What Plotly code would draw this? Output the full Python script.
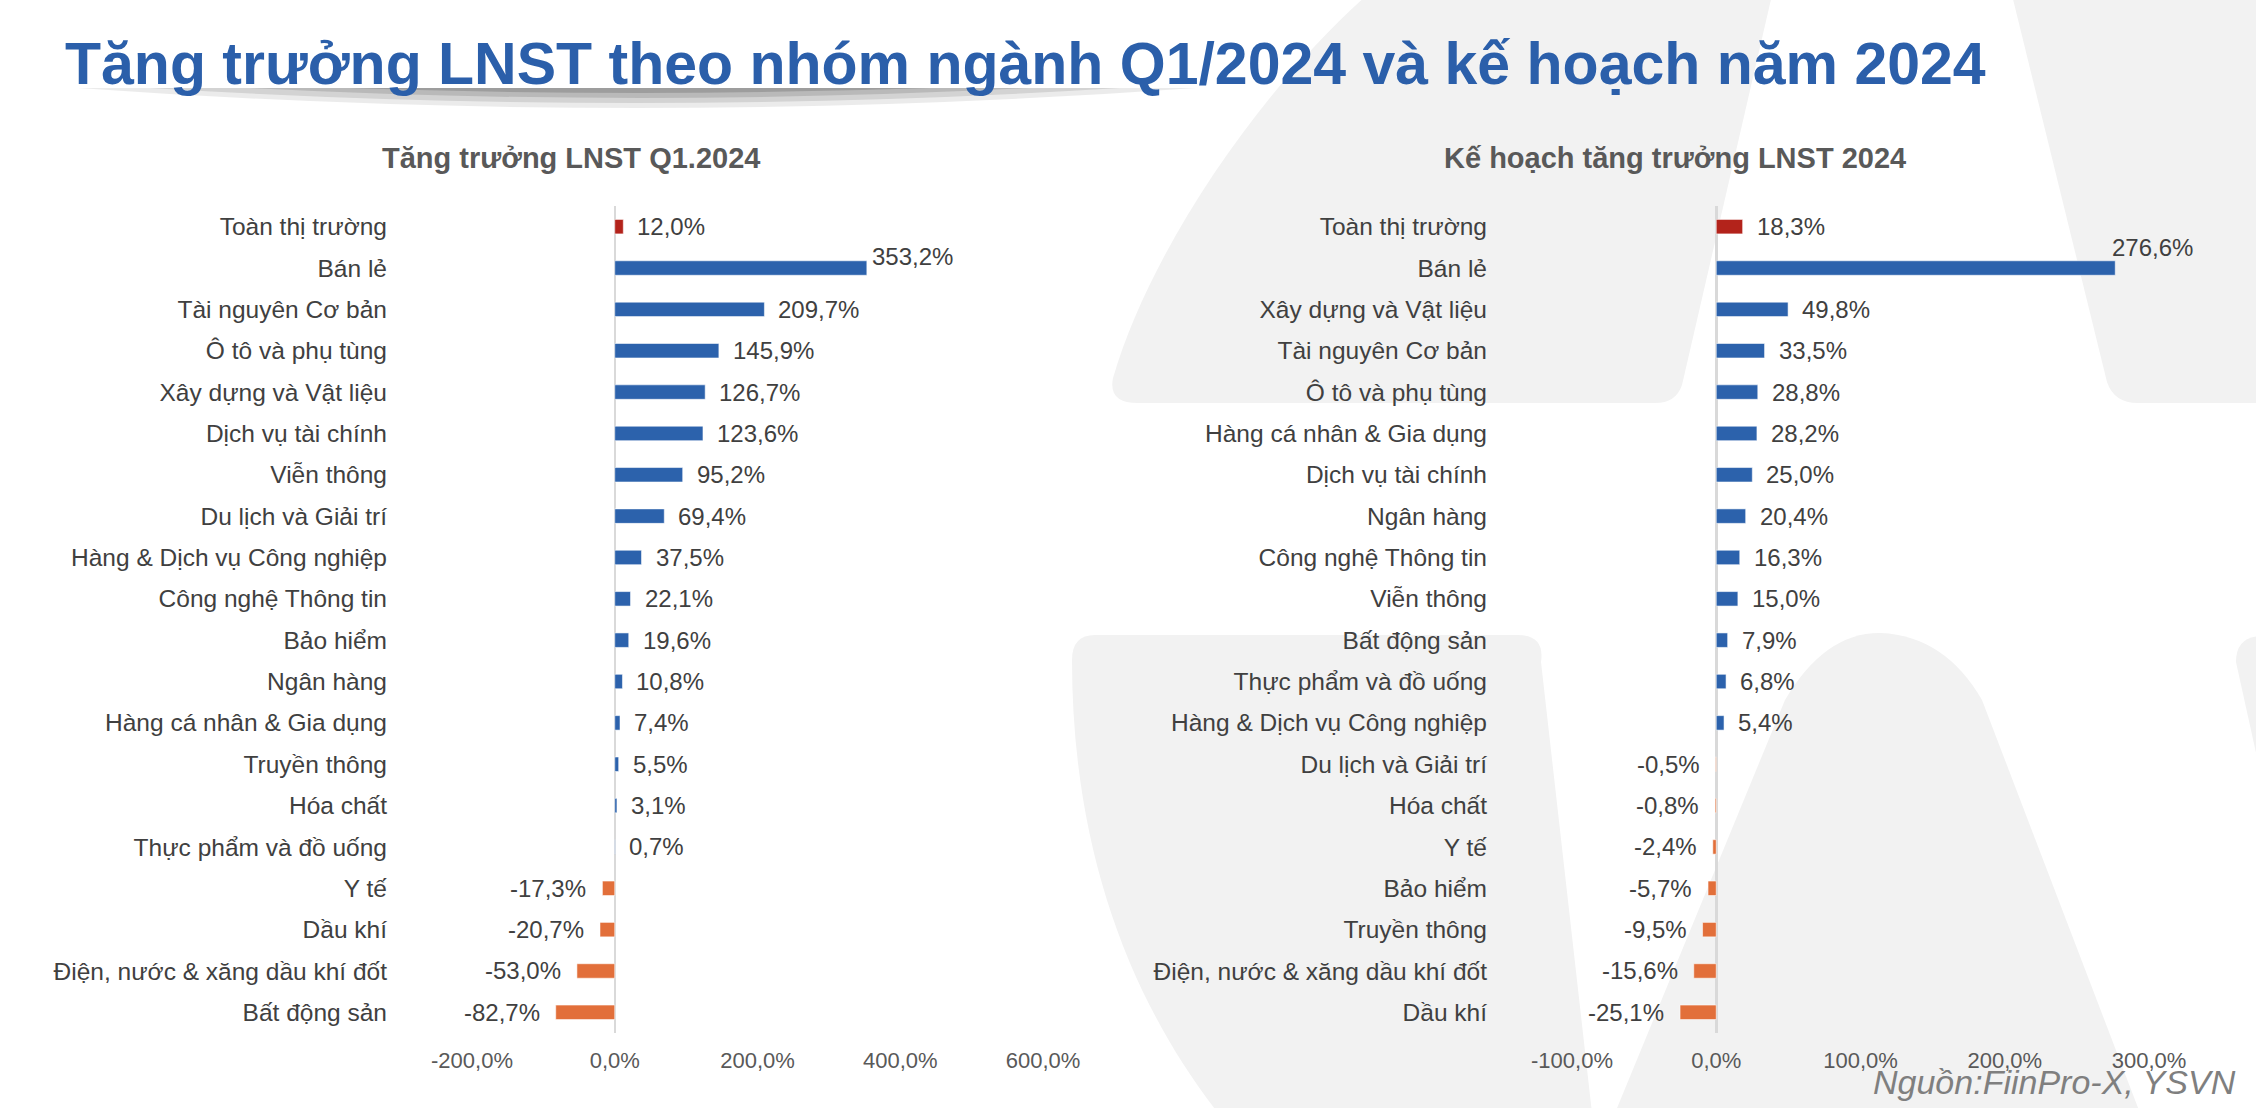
import plotly.graph_objects as go

# ---------------- DATA ----------------
left_categories = ["Toàn thị trường", "Bán lẻ", "Tài nguyên Cơ bản", "Ô tô và phụ tùng",
                   "Xây dựng và Vật liệu", "Dịch vụ tài chính", "Viễn thông", "Du lịch và Giải trí",
                   "Hàng & Dịch vụ Công nghiệp", "Công nghệ Thông tin", "Bảo hiểm", "Ngân hàng",
                   "Hàng cá nhân & Gia dụng", "Truyền thông", "Hóa chất", "Thực phẩm và đồ uống",
                   "Y tế", "Dầu khí", "Điện, nước & xăng dầu khí đốt", "Bất động sản"]
left_values = [12.0, 353.2, 209.7, 145.9, 126.7, 123.6, 95.2, 69.4, 37.5, 22.1,
               19.6, 10.8, 7.4, 5.5, 3.1, 0.7, -17.3, -20.7, -53.0, -82.7]

right_categories = ["Toàn thị trường", "Bán lẻ", "Xây dựng và Vật liệu", "Tài nguyên Cơ bản",
                    "Ô tô và phụ tùng", "Hàng cá nhân & Gia dụng", "Dịch vụ tài chính", "Ngân hàng",
                    "Công nghệ Thông tin", "Viễn thông", "Bất động sản", "Thực phẩm và đồ uống",
                    "Hàng & Dịch vụ Công nghiệp", "Du lịch và Giải trí", "Hóa chất", "Y tế",
                    "Bảo hiểm", "Truyền thông", "Điện, nước & xăng dầu khí đốt", "Dầu khí"]
right_values = [18.3, 276.6, 49.8, 33.5, 28.8, 28.2, 25.0, 20.4, 16.3, 15.0,
                7.9, 6.8, 5.4, -0.5, -0.8, -2.4, -5.7, -9.5, -15.6, -25.1]

left_ticks = [-200, 0, 200, 400, 600]
right_ticks = [-100, 0, 100, 200, 300]

main_title = "Tăng trưởng LNST theo nhóm ngành Q1/2024 và kế hoạch năm 2024"
left_title = "Tăng trưởng LNST Q1.2024"
right_title = "Kế hoạch tăng trưởng LNST 2024"
source_text = "Nguồn:FiinPro-X, YSVN"
total_category = "Toàn thị trường"

# ---------------- STYLE ----------------
W, H = 2256, 1108
FONT = "Liberation Sans, Arial, sans-serif"
BLUE = "#2C62AC"
RED = "#B3231B"
ORANGE = "#E26F3A"
LABEL_COLOR = "#404040"
TICK_COLOR = "#595959"
WM = "#F2F2F2"


def px(x):
    return x / W


def py(y):
    return 1 - y / H


def fmt(v):
    return f"{v:.1f}%".replace(".", ",")


def colors_for(cats, vals):
    out = []
    for c, v in zip(cats, vals):
        if c == total_category:
            out.append(RED)
        elif v >= 0:
            out.append(BLUE)
        else:
            out.append(ORANGE)
    return out


def path(cmds):
    s = ""
    for c in cmds:
        op = c[0]
        s += op
        pts = c[1:]
        s += " ".join(f"{px(x):.5f},{py(y):.5f}" for x, y in pts) + " "
    return s.strip()


fig = go.Figure()

fig.add_trace(go.Bar(
    x=left_values, y=left_categories, orientation="h",
    marker=dict(color=colors_for(left_categories, left_values),
                line=dict(color="rgba(255,255,255,0.55)", width=1)),
    xaxis="x", yaxis="y", hoverinfo="x+y", showlegend=False,
))
fig.add_trace(go.Bar(
    x=right_values, y=right_categories, orientation="h",
    marker=dict(color=colors_for(right_categories, right_values),
                line=dict(color="rgba(255,255,255,0.55)", width=1)),
    xaxis="x2", yaxis="y2", hoverinfo="x+y", showlegend=False,
))

plot_top, plot_bot = 206, 1033
ydom = [py(plot_bot), py(plot_top)]

common_x = dict(showgrid=False, zeroline=True, zerolinecolor="#D9D9D9", zerolinewidth=2.5,
                showline=False, ticks="", tickfont=dict(family=FONT, size=22, color=TICK_COLOR),
                ticklabelstandoff=12, fixedrange=True, automargin=False)
common_y = dict(showgrid=False, zeroline=False, showline=False, ticks="",
                tickfont=dict(family=FONT, size=24.5, color=LABEL_COLOR),
                autorange="reversed", ticklabelstandoff=84, fixedrange=True, domain=ydom,
                automargin=False)

fig.update_layout(
    width=W, height=H,
    margin=dict(l=0, r=0, t=0, b=0, pad=0, autoexpand=False),
    paper_bgcolor="white", plot_bgcolor="rgba(0,0,0,0)",
    bargap=0.65,
    xaxis=dict(common_x, domain=[px(472), px(1043)], range=[-200, 600], anchor="y",
               tickvals=left_ticks, ticktext=[fmt(v) for v in left_ticks]),
    yaxis=dict(common_y, anchor="x", categoryorder="array", categoryarray=left_categories),
    xaxis2=dict(common_x, domain=[px(1572), px(2149)], range=[-100, 300], anchor="y2",
                tickvals=right_ticks, ticktext=[fmt(v) for v in right_ticks]),
    yaxis2=dict(common_y, anchor="x2", categoryorder="array", categoryarray=right_categories),
)

annotations = []
# data labels
special_offsets = {
    ("x", "Bán lẻ"): (3, 12),
    ("x2", "Bán lẻ"): (-5, 21),
}
for xref, yref, cats, vals in (("x", "y", left_categories, left_values),
                               ("x2", "y2", right_categories, right_values)):
    for c, v in zip(cats, vals):
        if (xref, c) in special_offsets:
            xs, ys = special_offsets[(xref, c)]
        else:
            xs, ys = (12, 0) if v >= 0 else (-14, 0)
        annotations.append(dict(
            x=v, y=c, xref=xref, yref=yref, text=fmt(v), showarrow=False,
            xanchor="left" if v >= 0 else "right", yanchor="middle",
            xshift=xs, yshift=ys,
            font=dict(family=FONT, size=24, color=LABEL_COLOR)))

# titles
annotations.append(dict(x=px(63), y=py(64), xref="paper", yref="paper", text=f"<b>{main_title}</b>",
                        showarrow=False, xanchor="left", yanchor="middle",
                        font=dict(family=FONT, size=59, color="#2B5FAA")))
annotations.append(dict(x=px(571), y=py(158), xref="paper", yref="paper", text=f"<b>{left_title}</b>",
                        showarrow=False, xanchor="center", yanchor="middle",
                        font=dict(family=FONT, size=29, color="#595959")))
annotations.append(dict(x=px(1675), y=py(158), xref="paper", yref="paper", text=f"<b>{right_title}</b>",
                        showarrow=False, xanchor="center", yanchor="middle",
                        font=dict(family=FONT, size=29, color="#595959")))
annotations.append(dict(x=px(2238), y=py(1082), xref="paper", yref="paper", text=f"<i>{source_text}</i>",
                        showarrow=False, xanchor="right", yanchor="middle",
                        font=dict(family=FONT, size=34, color="#7F7F7F")))
fig.update_layout(annotations=annotations)

shapes = []
# watermark
wm_paths = [
    [("M", (1367, -5)), ("L", (1772, -5)), ("L", (1682, 385)), ("Q", (1676, 403), (1655, 403)),
     ("L", (1138, 403)), ("Q", (1108, 403), (1113, 378)), ("C", (1150, 250), (1260, 90), (1367, -5)), ("Z",)],
    [("M", (2012, -5)), ("L", (2262, -5)), ("L", (2262, 403)), ("L", (2138, 403)),
     ("Q", (2114, 403), (2107, 382)), ("Z",)],
    [("M", (1095, 635)), ("L", (1518, 635)), ("Q", (1545, 635), (1541, 662)), ("L", (1592, 1113)),
     ("L", (1218, 1113)), ("C", (1130, 1000), (1072, 850), (1072, 660)), ("Q", (1072, 635), (1095, 635)), ("Z",)],
    [("M", (1615, 1113)), ("L", (1785, 700)), ("Q", (1825, 632), (1881, 633)),
     ("Q", (1945, 636), (1982, 700)), ("L", (2140, 1113)), ("Z",)],
    [("M", (2262, 636)), ("Q", (2236, 636), (2236, 662)), ("L", (2262, 780)), ("Z",)],
]
for p in wm_paths:
    shapes.append(dict(type="path", xref="paper", yref="paper", path=path(p),
                       fillcolor=WM, line=dict(width=0), layer="below"))
# title shadow
for (x0, x1, cy, op) in [(78, 1196, 128, 0.08), (150, 1120, 118, 0.10),
                         (250, 1030, 108, 0.12), (350, 930, 98, 0.15)]:
    shapes.append(dict(type="path", xref="paper", yref="paper",
                       path=path([("M", (x0, 88)), ("Q", ((x0 + x1) / 2, cy), (x1, 88)), ("Z",)]),
                       fillcolor="black", opacity=op, line=dict(width=0), layer="below"))
fig.update_layout(shapes=shapes)

fig.write_html("out.html",
               config={"displayModeBar": False, "staticPlot": True},
               post_script="document.body.style.margin='0';document.body.style.overflow='hidden';")
